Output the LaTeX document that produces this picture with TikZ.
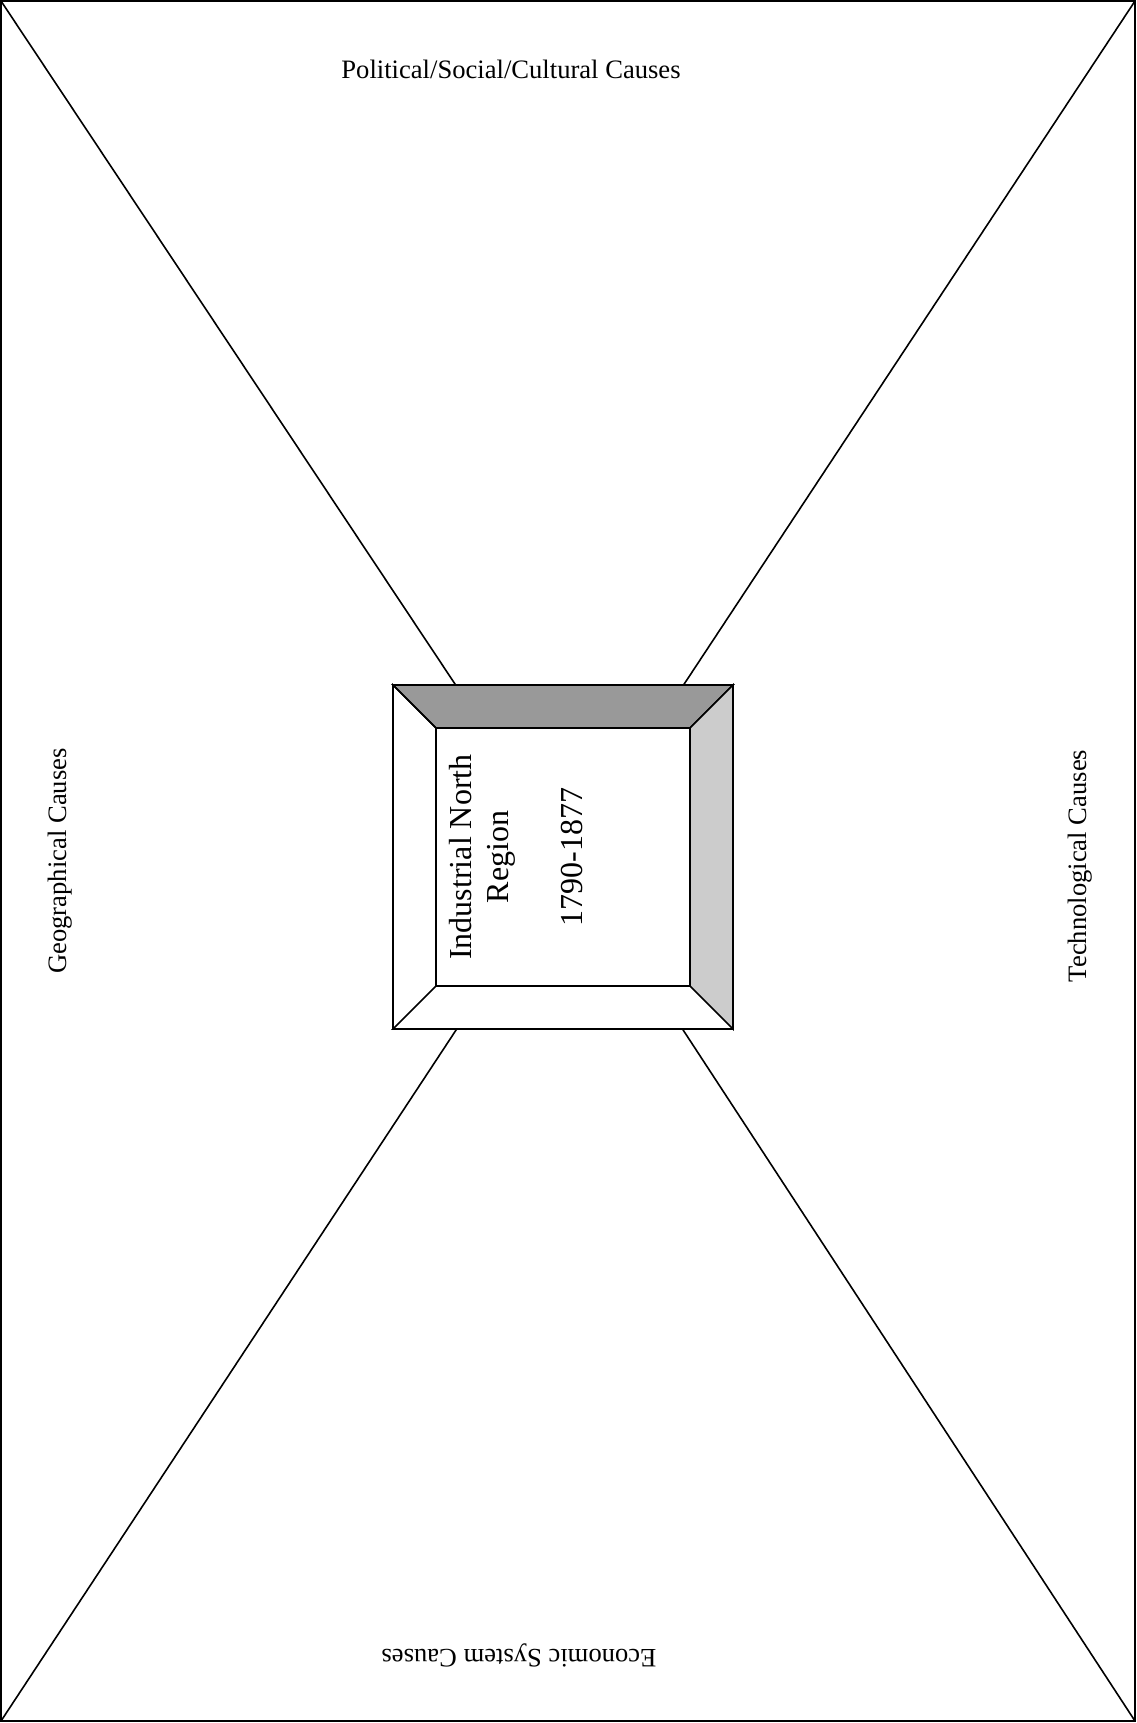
\documentclass[tikz,border=0pt]{standalone}
\usepackage{fontspec}
\setmainfont{Liberation Serif}
\begin{document}
\begin{tikzpicture}[x=0.5pt,y=-0.5pt,
  edge/.style={line width=0.8pt,black},
  lbl/.style={font=\fontsize{13.3}{16}\selectfont,inner sep=0pt},
  ctr/.style={font=\fontsize{16}{18.5}\selectfont,align=center,inner sep=0pt,rotate=90}]
\useasboundingbox (0,0) rectangle (1136,1723);
\fill[white] (0,0) rectangle (1136,1723);
% corners and hub
\coordinate (tl) at (1,1);
\coordinate (tr) at (1135,1);
\coordinate (bl) at (1,1721);
\coordinate (br) at (1135,1721);
\coordinate (hub) at (570,857);
\draw[edge] (tl) rectangle (br);
\draw[edge] (tl) -- (hub);
\draw[edge] (tr) -- (hub);
\draw[edge] (bl) -- (hub);
\draw[edge] (br) -- (hub);
% beveled box
\coordinate (o1) at (393,685);
\coordinate (o2) at (733,685);
\coordinate (o3) at (733,1029);
\coordinate (o4) at (393,1029);
\coordinate (i1) at (436,728);
\coordinate (i2) at (690,728);
\coordinate (i3) at (690,986);
\coordinate (i4) at (436,986);
\fill[white] (o1) rectangle (o3);
\filldraw[edge,fill=black!40] (o1) -- (o2) -- (i2) -- (i1) -- cycle;
\filldraw[edge,fill=black!20] (o2) -- (o3) -- (i3) -- (i2) -- cycle;
\draw[edge] (o3) -- (o4) -- (i4) -- (i3);
\draw[edge] (o4) -- (o1) -- (i1) -- (i4);
\draw[edge] (o1) rectangle (o3);
\draw[edge] (i1) rectangle (i3);
\node[ctr] (center) at (516,857) {Industrial North\\Region\\[18.5pt]1790-1877};
% labels
\node[lbl] (pol) at (511,69) {Political/Social/Cultural Causes};
\node[lbl,rotate=90] (geo) at (60,861) {Geographical Causes};
\node[lbl,rotate=90] (tech) at (1080,866) {Technological Causes};
\node[lbl,rotate=180] (econ) at (519,1655) {Economic System Causes};
\end{tikzpicture}
\end{document}
